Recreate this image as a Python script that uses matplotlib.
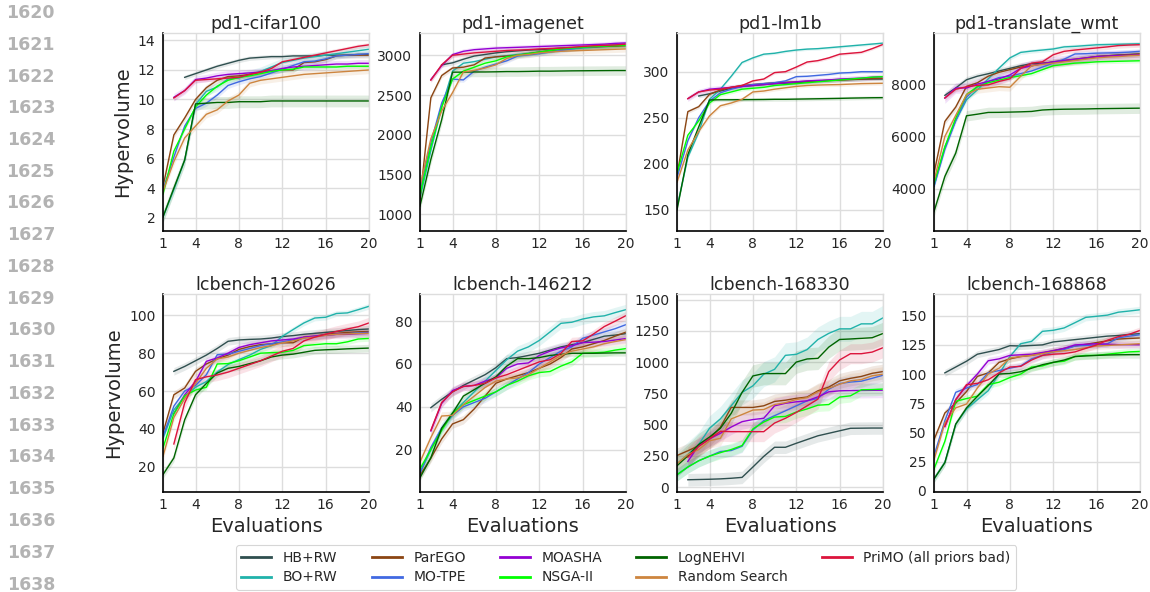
import numpy as np
import matplotlib
matplotlib.use("Agg")
import matplotlib.pyplot as plt

N = np.nan
x_evals = list(range(1, 21))
methods = ["HB+RW", "BO+RW", "ParEGO", "MO-TPE", "MOASHA", "NSGA-II",
           "LogNEHVI", "Random Search", "PriMO (all priors bad)"]
colors = ["#2F4F4F", "#20B2AA", "#8B4513", "#4169E1", "#9400D3", "#00FF00",
          "#006400", "#CD853F", "#DC143C"]

titles = ["pd1-cifar100", "pd1-imagenet", "pd1-lm1b", "pd1-translate_wmt",
          "lcbench-126026", "lcbench-146212", "lcbench-168330", "lcbench-168868"]

cifar100 = {
    "HB+RW": [N, N, 11.5, 11.75, 12.0, 12.25, 12.45, 12.65, 12.8, 12.85, 12.9, 12.9, 12.95, 12.95, 12.95, 13.0, 13.0, 13.0, 13.05, 13.05],
    "BO+RW": [2.05, 3.9, 5.9, 9.65, 10.55, 10.85, 11.4, 11.45, 11.7, 11.9, 12.2, 12.5, 12.65, 12.8, 12.9, 13.0, 13.1, 13.2, 13.3, 13.4],
    "ParEGO": [4.1, 7.6, 8.75, 10.0, 10.8, 11.3, 11.55, 11.6, 11.7, 11.85, 11.95, 12.0, 12.0, 12.5, 12.55, 12.7, 12.95, 13.0, 13.0, 13.0],
    "MO-TPE": [3.9, 6.1, 8.2, 9.4, 9.75, 10.3, 10.95, 11.2, 11.4, 11.55, 11.8, 12.05, 12.3, 12.55, 12.6, 12.75, 12.95, 13.0, 13.05, 13.1],
    "MOASHA": [N, 10.15, 10.6, 11.35, 11.45, 11.6, 11.7, 11.75, 11.8, 11.85, 11.95, 12.1, 12.2, 12.25, 12.3, 12.35, 12.4, 12.4, 12.45, 12.45],
    "NSGA-II": [3.6, 6.5, 8.0, 9.5, 10.3, 10.9, 11.3, 11.5, 11.6, 11.75, 11.9, 12.0, 12.05, 12.2, 12.2, 12.2, 12.2, 12.25, 12.25, 12.25],
    "LogNEHVI": [2.05, 4.0, 5.9, 9.7, 9.75, 9.8, 9.8, 9.85, 9.85, 9.85, 9.9, 9.9, 9.9, 9.9, 9.9, 9.9, 9.9, 9.9, 9.9, 9.9],
    "Random Search": [3.8, 5.8, 7.4, 8.2, 9.0, 9.3, 9.9, 10.3, 11.1, 11.3, 11.4, 11.5, 11.6, 11.7, 11.75, 11.8, 11.85, 11.9, 11.95, 12.0],
    "PriMO (all priors bad)": [N, 10.1, 10.6, 11.3, 11.35, 11.4, 11.45, 11.5, 11.7, 11.85, 12.1, 12.55, 12.7, 12.85, 13.0, 13.15, 13.3, 13.45, 13.6, 13.7],
}
imagenet = {
    "HB+RW": [N, N, 2880, 2905, 2950, 2990, 3010, 3030, 3045, 3055, 3065, 3070, 3080, 3090, 3095, 3100, 3110, 3115, 3120, 3130],
    "BO+RW": [1200, 1800, 2350, 2800, 2900, 2920, 2950, 2980, 2995, 3010, 3025, 3040, 3055, 3070, 3080, 3090, 3100, 3110, 3120, 3130],
    "ParEGO": [1190, 2465, 2745, 2840, 2850, 2880, 2965, 2980, 2990, 3000, 3020, 3040, 3060, 3080, 3090, 3100, 3105, 3110, 3115, 3120],
    "MO-TPE": [1300, 1900, 2400, 2700, 2690, 2800, 2850, 2890, 2930, 2990, 3005, 3020, 3040, 3060, 3080, 3100, 3110, 3120, 3130, 3140],
    "MOASHA": [N, 2695, 2870, 3008, 3050, 3070, 3080, 3090, 3095, 3100, 3105, 3110, 3115, 3120, 3125, 3130, 3135, 3140, 3150, 3155],
    "NSGA-II": [1250, 1850, 2350, 2700, 2800, 2850, 2900, 2930, 2980, 3000, 3020, 3040, 3060, 3080, 3090, 3100, 3110, 3115, 3120, 3125],
    "LogNEHVI": [1105, 1690, 2190, 2787, 2788, 2790, 2790, 2792, 2795, 2795, 2797, 2800, 2800, 2802, 2804, 2805, 2806, 2807, 2808, 2808],
    "Random Search": [1350, 1950, 2300, 2530, 2790, 2810, 2840, 2880, 2960, 3000, 3010, 3030, 3040, 3050, 3055, 3060, 3065, 3070, 3075, 3080],
    "PriMO (all priors bad)": [N, 2686, 2880, 3000, 3015, 3030, 3040, 3050, 3060, 3065, 3070, 3080, 3085, 3090, 3100, 3110, 3120, 3125, 3130, 3140],
}
lm1b = {
    "HB+RW": [N, N, 273.6, 276, 279, 282, 284, 285, 286, 287, 287.5, 288, 289, 290, 290.5, 291, 291.5, 291.8, 292, 292],
    "BO+RW": [152.5, 207, 234, 270, 281, 295, 310, 315, 319, 320, 322, 323.5, 324.5, 325, 326, 327, 328, 329, 330, 331],
    "ParEGO": [187, 256.6, 262, 275.4, 280, 283, 285, 286, 287, 288, 288.5, 289, 289.5, 290, 290.5, 291, 291.5, 292, 292.5, 292.8],
    "MO-TPE": [185, 225, 250, 268, 277, 281, 284, 286, 287, 288, 290, 294.6, 295, 296, 297, 298.5, 299, 300, 300, 300],
    "MOASHA": [N, 270.7, 278, 281, 282, 283, 284, 285, 286, 287, 288, 289, 290, 290.5, 291, 292, 292.5, 293, 294, 294.6],
    "NSGA-II": [190, 231, 246.5, 266, 275, 278, 281, 282, 283, 285, 286, 287, 288, 289, 290, 291, 292, 293, 294, 294.6],
    "LogNEHVI": [150, 210, 240, 269.3, 269.5, 269.5, 269.6, 269.7, 269.8, 270, 270, 270.2, 270.4, 270.6, 270.8, 271, 271.3, 271.5, 271.7, 271.8],
    "Random Search": [180, 215, 235, 252, 263, 266, 270, 278, 279, 281, 282.5, 284, 285, 285.5, 285.8, 286, 286.5, 287, 287.2, 287.4],
    "PriMO (all priors bad)": [N, 270.7, 278, 280, 281, 283, 285, 290, 292, 299, 300, 305, 310.5, 312, 315, 319, 320, 321, 325, 329.6],
}
translate_wmt = {
    "HB+RW": [N, 7570, 7850, 8165, 8300, 8395, 8500, 8600, 8700, 8780, 8800, 8830, 8880, 8920, 8980, 9050, 9080, 9110, 9130, 9150],
    "BO+RW": [4100, 5600, 6600, 7400, 7780, 8200, 8610, 9000, 9210, 9260, 9300, 9340, 9420, 9440, 9470, 9500, 9510, 9520, 9530, 9540],
    "ParEGO": [4600, 6573, 7120, 7910, 8050, 8300, 8450, 8550, 8650, 8700, 8780, 8850, 8900, 8950, 9000, 9050, 9080, 9100, 9120, 9150],
    "MO-TPE": [4100, 5500, 6600, 7500, 7900, 8100, 8250, 8300, 8400, 8500, 8650, 8800, 8950, 9150, 9160, 9180, 9190, 9200, 9220, 9250],
    "MOASHA": [N, 7465, 7850, 7850, 8000, 8100, 8200, 8350, 8600, 8700, 8780, 8850, 8900, 8950, 9000, 9050, 9070, 9090, 9100, 9120],
    "NSGA-II": [4200, 5600, 6700, 7600, 7900, 8050, 8150, 8250, 8320, 8400, 8550, 8700, 8750, 8800, 8820, 8850, 8860, 8870, 8880, 8890],
    "LogNEHVI": [3130, 4470, 5360, 6790, 6850, 6917, 6920, 6930, 6940, 6955, 7010, 7030, 7040, 7045, 7050, 7060, 7065, 7070, 7075, 7080],
    "Random Search": [4300, 6000, 6800, 7600, 7800, 7850, 7900, 7880, 8300, 8700, 8750, 8800, 8850, 8900, 8950, 9000, 9030, 9050, 9080, 9100],
    "PriMO (all priors bad)": [N, 7470, 7800, 7900, 7950, 7970, 8100, 8200, 8600, 8800, 8850, 9120, 9250, 9300, 9340, 9380, 9420, 9470, 9490, 9503],
}
lcb_126026 = {
    "HB+RW": [N, 70.4, 73, 76, 79, 82.5, 86.3, 87, 87.3, 87.5, 88, 88.8, 89.3, 90, 90.5, 91, 91.5, 92, 92.5, 92.8],
    "BO+RW": [35, 50, 57, 62, 65, 70, 74, 76.6, 79, 82, 84, 88.9, 92.5, 96, 98.6, 99, 101, 101.3, 103, 104.8],
    "ParEGO": [37.8, 58, 61.6, 70.4, 74.3, 77, 79, 82, 83.5, 84.5, 85, 85.5, 85.5, 88.5, 89, 90, 90.5, 91, 91.3, 91.5],
    "MO-TPE": [36, 52, 60, 63, 68.6, 79.2, 79.5, 81, 82.5, 84, 85, 86, 87, 88, 89, 89.5, 90, 90.3, 90.7, 91],
    "MOASHA": [N, 48, 58, 65, 75.7, 77.5, 80, 83, 84.5, 85.5, 86.5, 87, 87.5, 88.5, 89, 89.5, 90, 90, 90.3, 90.5],
    "NSGA-II": [29.9, 48, 57.5, 60.5, 62, 74.3, 74.5, 76, 78, 80, 80.3, 80.5, 81.5, 84, 84.5, 85, 85, 86, 87.5, 87.8],
    "LogNEHVI": [15.8, 24.6, 44.8, 58, 64, 69.5, 72, 73, 74.5, 76, 78, 79, 79.5, 80.5, 81.5, 81.8, 82, 82.3, 82.5, 82.7],
    "Random Search": [25.5, 46, 56, 64, 72, 77, 78, 80, 81.5, 83, 84, 85.5, 86.5, 88, 88.5, 89.5, 90, 90.2, 90.4, 90.5],
    "PriMO (all priors bad)": [N, 32, 53.7, 66, 67.5, 68.5, 70, 72, 74, 76, 78.5, 81, 82.5, 86.5, 88.5, 90, 91.5, 92.8, 94, 96],
}
lcb_146212 = {
    "HB+RW": [N, 39.6, 43.5, 47, 50, 52.5, 55, 58.3, 62.5, 63, 64, 65, 66.5, 68, 69, 70, 71.5, 73, 73.5, 74.2],
    "BO+RW": [9, 20, 30, 37, 42, 47, 52, 57, 62, 66, 68, 71, 75, 79, 79.5, 81, 82, 82.5, 84, 85.4],
    "ParEGO": [8, 16, 25, 32, 34, 39, 45, 51, 53, 54.5, 56, 58, 60, 63, 67, 68, 69.5, 71, 73, 74.9],
    "MO-TPE": [9, 21, 30, 36, 40, 42, 44, 47, 50, 53, 56, 60, 63, 66, 68, 72, 73.5, 75, 76.5, 78.4],
    "MOASHA": [N, 28.7, 41.6, 47.6, 49.5, 50, 52, 53.5, 58, 60, 60.5, 64, 66, 67.5, 68.5, 70, 70.2, 70.5, 71.2, 71.9],
    "NSGA-II": [11, 20, 29, 37, 41, 43, 45, 47, 50, 52, 54.5, 56, 56.5, 59, 61, 65, 65.2, 65.5, 66.5, 67.2],
    "LogNEHVI": [6.9, 16.2, 30, 37, 45, 48, 51, 54, 59, 62.5, 62.5, 63, 64, 64.5, 65, 65, 65, 65.1, 65.2, 65.2],
    "Random Search": [14.2, 25.6, 35.7, 36, 41, 45, 49, 52, 53, 53.5, 55, 58, 61, 64, 66, 67, 68, 69.5, 70.5, 71.4],
    "PriMO (all priors bad)": [N, 29, 42, 47, 49.5, 50, 51, 53.5, 55, 57, 59, 61, 62, 65, 70.5, 70.8, 74, 77.5, 80, 82.6],
}
lcb_168330 = {
    "HB+RW": [N, 58, 60, 62, 65, 70, 77, 160, 245, 318, 318, 350, 380, 410, 430, 450, 470, 471, 472, 472],
    "BO+RW": [186, 260, 340, 470, 545, 650, 757, 810, 903, 942, 1054, 1062, 1100, 1181, 1230, 1266, 1266, 1306, 1306, 1354],
    "ParEGO": [252, 290, 330, 385, 478, 637, 637, 637, 650, 685, 695, 710, 720, 770, 800, 850, 870, 885, 910, 924],
    "MO-TPE": [98, 160, 210, 247, 284, 292, 326, 457, 531, 571, 610, 650, 690, 709, 783, 828, 840, 847, 870, 895],
    "MOASHA": [N, 205, 332, 385, 430, 480, 523, 540, 550, 650, 670, 682, 690, 722, 762, 770, 772, 773, 774, 775],
    "NSGA-II": [98, 160, 210, 247, 275, 300, 332, 465, 520, 560, 565, 600, 625, 655, 660, 720, 730, 778, 780, 784],
    "LogNEHVI": [170, 250, 340, 400, 470, 590, 757, 889, 908, 908, 908, 1000, 1025, 1030, 1120, 1181, 1185, 1190, 1195, 1229],
    "Random Search": [186, 260, 300, 370, 390, 545, 580, 616, 620, 660, 675, 700, 715, 762, 790, 823, 850, 860, 890, 903],
    "PriMO (all priors bad)": [N, 239, 324, 385, 446, 443, 443, 443, 443, 512, 550, 597, 650, 704, 924, 1017, 1067, 1067, 1080, 1115],
}
lcb_168868 = {
    "HB+RW": [N, 101, 106, 111, 117, 119, 121, 124.3, 124, 124.5, 125, 127.5, 128.5, 129.5, 130.5, 131.5, 132.5, 133, 134, 134.6],
    "BO+RW": [10, 24.3, 57, 70, 78, 85.7, 100, 115, 126, 128, 136.6, 137.5, 139.5, 144, 148.6, 149.5, 150.5, 153, 154, 155.1],
    "ParEGO": [43.7, 66.6, 75, 85, 98, 101, 110, 113, 115, 116, 118, 120, 122, 124, 125.5, 127, 128.5, 130, 130.5, 130.9],
    "MO-TPE": [30, 60, 84.3, 88, 91, 101, 103, 105, 107, 113, 116, 119, 121, 124, 124.5, 125, 126, 131, 132.5, 133.7],
    "MOASHA": [N, 55, 78, 90, 100, 111.4, 113, 116, 116.5, 117, 118.5, 120, 122, 125, 125.5, 126, 125.5, 125.3, 125.2, 125.1],
    "NSGA-II": [18.6, 42.3, 76.6, 79, 81, 90.9, 93, 97, 100, 106, 107, 110, 111, 115, 116, 116, 117, 118, 119, 119.4],
    "LogNEHVI": [10, 24, 57, 71, 80.9, 90, 100, 100.5, 102, 105, 108, 110, 112, 115, 115.5, 116, 116.3, 116.5, 116.6, 116.6],
    "Random Search": [26.6, 58, 71, 74.3, 88, 100, 105, 113.7, 115, 116, 117.5, 119, 120, 121, 122.5, 124, 124.5, 125, 125.5, 126],
    "PriMO (all priors bad)": [N, 55, 78, 90.9, 92, 95.1, 101, 106, 106.6, 112, 116, 117, 117.5, 119, 122, 125, 129, 132, 134, 137.4],
}
panels = [cifar100, imagenet, lm1b, translate_wmt, lcb_126026, lcb_146212, lcb_168330, lcb_168868]

# standard-error half widths per panel, method order as in `methods`
bands = [
    [0.15, 0.3, 0.2, 0.2, 0.25, 0.15, 0.4, 0.25, 0.15],
    [30, 30, 30, 30, 30, 30, 60, 40, 30],
    [2, 1.5, 2, 1.5, 3, 2, 2, 2, 1.5],
    [120, 80, 120, 100, 200, 80, 200, 150, 100],
    [2, 1.5, 2, 1.5, 2, 1.5, 2, 2, 3],
    [2, 2.5, 2, 2, 2, 2, 1.5, 2, 2],
    [50, 100, 60, 50, 60, 50, 90, 60, 80],
    [3, 3, 3, 3, 3, 3, 3, 3, 3],
]

y_ticks = [
    [2, 4, 6, 8, 10, 12, 14],
    [1000, 1500, 2000, 2500, 3000],
    [150, 200, 250, 300],
    [4000, 6000, 8000],
    [20, 40, 60, 80, 100],
    [20, 40, 60, 80],
    [0, 250, 500, 750, 1000, 1250, 1500],
    [0, 25, 50, 75, 100, 125, 150],
]
y_lims = [(1.1, 14.5), (790, 3280), (127, 342), (2390, 9950),
          (6.6, 111.3), (0.2, 92.7), (-40, 1545), (-1.1, 168.6)]
x_ticks = [1, 4, 8, 12, 16, 20]
line_numbers = list(range(1620, 1639))

W, H = 1150, 592
fig = plt.figure(figsize=(W / 100, H / 100), dpi=100)

lefts = [163, 420, 677, 934]
tops = [33, 294]
aw, ah = 206, 198

grid_c = "#dddddd"
text_c = "#262626"
handles = []
for i, data in enumerate(panels):
    r, c = divmod(i, 4)
    ax = fig.add_axes([lefts[c] / W, 1 - (tops[r] + ah) / H, aw / W, ah / H])
    ax.set_facecolor("white")
    for k, m in enumerate(methods):
        y = np.array(data[m], dtype=float)
        x = np.array(x_evals, dtype=float)
        s = bands[i][k]
        ax.fill_between(x, y - s, y + s, color=colors[k], alpha=0.12, lw=0)
        ln, = ax.plot(x, y, color=colors[k], lw=1.0, label=m)
        if i == 0:
            handles.append(ln)
    ax.set_xlim(1, 20)
    ax.set_ylim(*y_lims[i])
    ax.set_xticks(x_ticks)
    ax.set_yticks(y_ticks[i])
    ax.grid(True, color=grid_c, lw=1.0)
    ax.set_axisbelow(True)
    ax.tick_params(length=0, labelsize=10, colors=text_c)
    ax.tick_params(axis="y", pad=5.5)
    ax.tick_params(axis="x", pad=4)
    for sp in ["top", "right"]:
        ax.spines[sp].set_color(grid_c)
        ax.spines[sp].set_linewidth(1.0)
    for sp in ["left", "bottom"]:
        ax.spines[sp].set_color("black")
        ax.spines[sp].set_linewidth(1.2)
    ax.set_title(titles[i], fontsize=12.5, color=text_c, pad=3)
    if c == 0:
        ax.set_ylabel("Hypervolume", fontsize=14, color=text_c, labelpad=4)
    if r == 1:
        ax.set_xlabel("Evaluations", fontsize=14, color=text_c, labelpad=4)

leg = fig.legend(handles=handles, labels=methods, loc="upper center",
                 bbox_to_anchor=(626 / W, 1 - 545 / H), ncol=5, fontsize=10,
                 frameon=True, handlelength=2.15, columnspacing=2.45,
                 borderpad=0.4, labelspacing=0.42, handletextpad=0.85,
                 borderaxespad=0)
leg.get_frame().set_edgecolor("#cccccc")
leg.get_frame().set_linewidth(0.8)
for t in leg.get_texts():
    t.set_color(text_c)
for lh in leg.get_lines():
    lh.set_linewidth(2.0)

for j, n in enumerate(line_numbers):
    yp = 13 + j * 31.75
    fig.text(55 / W, 1 - yp / H, str(n), ha="right", va="center",
             fontsize=12.5, fontweight="bold", color="#b3b3b3",
             family="DejaVu Sans")

fig.savefig("out.png", dpi=100)
